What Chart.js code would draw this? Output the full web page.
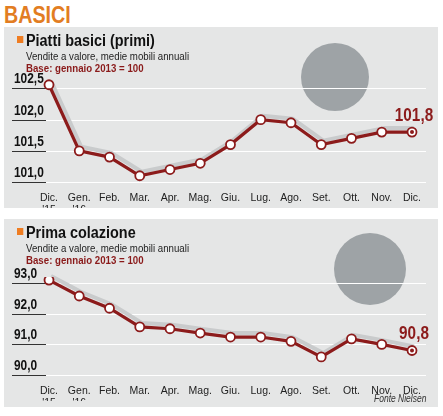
<!DOCTYPE html>
<html><head><meta charset="utf-8">
<script src="https://cdn.jsdelivr.net/npm/chart.js@4"></script>
<style>
body{margin:0;width:443px;height:416px;background:#fff;font-family:"Liberation Sans",sans-serif;position:relative;overflow:hidden}
.h{position:absolute;left:4px;top:1px;font-size:24px;font-weight:bold;color:#e27d22;transform:scaleX(0.82);transform-origin:left}
.p{position:absolute;left:4px;width:434px;background:#e5e6e6}
.p canvas{position:absolute;left:0;top:0}
.t,.s,.b,.f{position:absolute;white-space:nowrap;transform-origin:left;z-index:2}
.t{left:13px;font-size:16px;font-weight:bold;color:#111;transform:scaleX(0.9)}
.t span{display:inline-block;width:7px;height:7px;background:#ef7d22;margin-right:3px;vertical-align:3px}
.s{left:22px;font-size:11px;color:#222;transform:scaleX(0.88)}
.b{left:22px;font-size:11px;font-weight:bold;color:#8a1a1a;transform:scaleX(0.88)}
.f{left:370px;font-size:10px;font-style:italic;color:#333;transform:scaleX(0.85)}
</style></head><body>
<div class="h">BASICI</div>
<div class="p" style="top:27px;height:181px">
  <canvas id="c1" width="434" height="181"></canvas>
  <div class="t" style="top:5px"><span></span>Piatti basici (primi)</div>
  <div class="s" style="top:23px">Vendite a valore, medie mobili annuali</div>
  <div class="b" style="top:35px">Base: gennaio 2013 = 100</div>
</div>
<div class="p" style="top:219px;height:188px">
  <canvas id="c2" width="434" height="188"></canvas>
  <div class="t" style="top:5px"><span></span>Prima colazione</div>
  <div class="s" style="top:23px">Vendite a valore, medie mobili annuali</div>
  <div class="b" style="top:35px">Base: gennaio 2013 = 100</div>
  <div class="f" style="top:174px">Fonte Nielsen</div>
</div>
<script>
// --- dati ---
const mesi = [["Dic.","'15"],["Gen.","'16"],"Feb.","Mar.","Apr.","Mag.","Giu.","Lug.","Ago.","Set.","Ott.","Nov.","Dic."];
const primi = [102.56,101.5,101.4,101.1,101.2,101.3,101.6,102.0,101.95,101.6,101.7,101.8,101.8];
const colazione = [93.1,92.58,92.18,91.57,91.51,91.37,91.24,91.24,91.1,90.59,91.18,91.0,90.8];
const primiTicks = [101.0,101.5,102.0,102.5];
const colazioneTicks = [90.0,91.0,92.0,93.0];

const rosso = "#8c1b1b";

function fmt(v){ return v.toFixed(1).replace(".", ","); }

// griglia, etichette asse y, cerchio grigio, ombra, etichetta finale
const decor = {
  id: "decor",
  beforeDatasetsDraw(chart, args, o) {
    const c = chart.ctx, y = chart.scales.y, a = chart.chartArea;
    c.save();
    c.fillStyle = "#9ea3a6";
    c.beginPath(); c.arc(o.cx, o.cy, o.r, 0, Math.PI * 2); c.fill();
    o.ticks.forEach(t => {
      const py = Math.round(y.getPixelForValue(t)) + 0.5;
      c.strokeStyle = "#fff"; c.lineWidth = 1.2;
      c.beginPath(); c.moveTo(a.left - 3, py); c.lineTo(a.right + 14, py); c.stroke();
      c.strokeStyle = "#333"; c.lineWidth = 1;
      c.beginPath(); c.moveTo(8, py); c.lineTo(a.left - 3, py); c.stroke();
      c.save();
      c.translate(10, py - 2); c.scale(0.85, 1);
      c.fillStyle = "#111"; c.font = "bold 14px 'Liberation Sans', sans-serif";
      c.textBaseline = "bottom"; c.fillText(fmt(t), 0, 0);
      c.restore();
    });
    // ombra grigia della linea
    const pts = chart.getDatasetMeta(0).data;
    c.strokeStyle = "#c9cbcc"; c.lineWidth = 4; c.lineJoin = "round";
    c.beginPath();
    pts.forEach((p, i) => i ? c.lineTo(p.x + 2, p.y - 4) : c.moveTo(p.x + 2, p.y - 4));
    c.stroke();
    c.restore();
  },
  afterDatasetsDraw(chart) {
    const c = chart.ctx, pts = chart.getDatasetMeta(0).data, last = pts[pts.length - 1];
    const data = chart.data.datasets[0].data;
    c.save();
    c.fillStyle = rosso;
    c.beginPath(); c.arc(last.x, last.y, 2, 0, Math.PI * 2); c.fill();
    c.translate(last.x + 2, last.y - 7); c.scale(0.85, 1);
    c.font = "bold 18px 'Liberation Sans', sans-serif";
    c.textAlign = "center"; c.textBaseline = "bottom";
    c.fillText(fmt(data[data.length - 1]), 0, 0);
    c.restore();
  }
};

function make(id, data, ticks, min, max, top, bottomPad, circle) {
  return new Chart(document.getElementById(id), {
    type: "line",
    data: { labels: mesi, datasets: [{
      data: data, borderColor: rosso, borderWidth: 3.2, tension: 0,
      pointRadius: 4.5, pointBackgroundColor: "#fff", pointBorderColor: rosso, pointBorderWidth: 1.8
    }]},
    options: {
      responsive: false, animation: false,
      layout: { padding: { left: 4, right: 26, top: top, bottom: bottomPad } },
      plugins: { legend: { display: false }, tooltip: { enabled: false },
        decor: { ticks: ticks, cx: circle[0], cy: circle[1], r: circle[2] } },
      scales: {
        x: { grid: { display: false }, border: { display: false },
             ticks: { color: "#222", maxRotation: 0, autoSkip: false, padding: 2,
                      font: { family: "'Liberation Sans', sans-serif", size: 10.5, lineHeight: 1.15 } },
             afterFit: s => { s.height = 26; } },
        y: { min: min, max: max, grid: { display: false }, border: { display: false },
             afterBuildTicks: s => { s.ticks = ticks.map(v => ({ value: v })); },
             afterFit: s => { s.width = 41; },
             ticks: { display: false } }
      }
    },
    plugins: [decor]
  });
}

make("c1", primi, primiTicks, 101.0, 102.7, 49, 0, [331, 50, 34]);
make("c2", colazione, colazioneTicks, 90.0, 93.2, 58, 6, [366, 50, 36]);
</script>
</body></html>
